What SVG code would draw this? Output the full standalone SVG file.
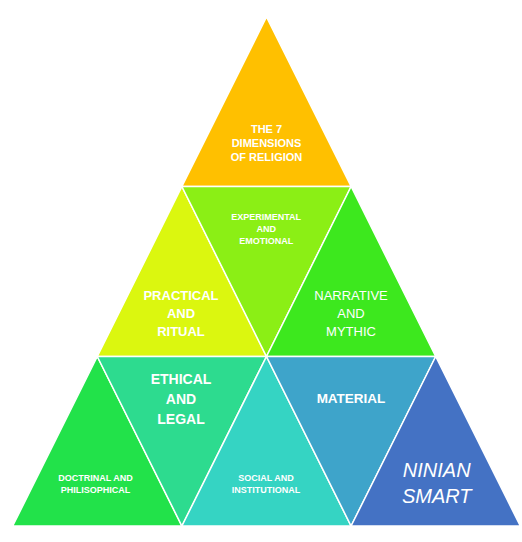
<svg xmlns="http://www.w3.org/2000/svg" width="522" height="542" viewBox="0 0 522 542">
<style>
.tri{stroke:#FFFFFF;stroke-width:1.5;stroke-linejoin:miter}
text{fill:#FFFFFF;font-family:"Liberation Sans",Arial,sans-serif;text-anchor:middle}
.b{font-weight:bold}
</style>
<rect width="522" height="542" fill="#FFFFFF"/>
<g id="connectors"></g>
<g id="title">
<polygon class="tri" fill="#FFC000" points="266.5,17 181.9,186.5 351.1,186.5"/>
<text class="b" font-size="11" x="266.5" y="133.3">THE 7</text>
<text class="b" font-size="11" x="266.5" y="147.2">DIMENSIONS</text>
<text class="b" font-size="11" x="266.5" y="161.2">OF RELIGION</text>
</g>
<g id="practical">
<polygon class="tri" fill="#DBF70F" points="181.9,186.5 97.3,356.5 266.5,356.5"/>
<text class="b" font-size="13" x="181" y="300.3">PRACTICAL</text>
<text class="b" font-size="13" x="181" y="318.3">AND</text>
<text class="b" font-size="13" x="181" y="336.2">RITUAL</text>
</g>
<g id="experimental">
<polygon class="tri" fill="#8BEF15" points="181.9,186.5 351.1,186.5 266.5,356.5"/>
<text class="b" font-size="9" x="266.2" y="220.2">EXPERIMENTAL</text>
<text class="b" font-size="9" x="266.2" y="232.3">AND</text>
<text class="b" font-size="9" x="266.2" y="244.3">EMOTIONAL</text>
</g>
<g id="narrative">
<polygon class="tri" fill="#3DE81E" points="351.1,186.5 266.5,356.5 435.7,356.5"/>
<text font-size="13" x="351" y="300.3">NARRATIVE</text>
<text font-size="13" x="351" y="318.3">AND</text>
<text font-size="13" x="351" y="336.2">MYTHIC</text>
</g>
<g id="doctrinal">
<polygon class="tri" fill="#22E24A" points="97.3,356.5 12.7,526 181.9,526"/>
<text class="b" font-size="9" x="95.5" y="480.7">DOCTRINAL AND</text>
<text class="b" font-size="9" x="95.5" y="492.7">PHILISOPHICAL</text>
</g>
<g id="ethical">
<polygon class="tri" fill="#2DDB8F" points="97.3,356.5 266.5,356.5 181.9,526"/>
<text class="b" font-size="14" x="181" y="384">ETHICAL</text>
<text class="b" font-size="14" x="181" y="404">AND</text>
<text class="b" font-size="14" x="181" y="424">LEGAL</text>
</g>
<g id="social">
<polygon class="tri" fill="#35D4C3" points="266.5,356.5 181.9,526 351.1,526"/>
<text class="b" font-size="9" x="266" y="480.7">SOCIAL AND</text>
<text class="b" font-size="9" x="266" y="492.7">INSTITUTIONAL</text>
</g>
<g id="material">
<polygon class="tri" fill="#3EA4CA" points="266.5,356.5 435.7,356.5 351.1,526"/>
<text class="b" font-size="13.5" x="351" y="403.3">MATERIAL</text>
</g>
<g id="ninian">
<polygon class="tri" fill="#4472C4" points="435.7,356.5 351.1,526 520.3,526"/>
<text font-size="20" font-style="italic" x="436.7" y="476.7">NINIAN</text>
<text font-size="20" font-style="italic" x="436.7" y="503.3">SMART</text>
</g>
</svg>
